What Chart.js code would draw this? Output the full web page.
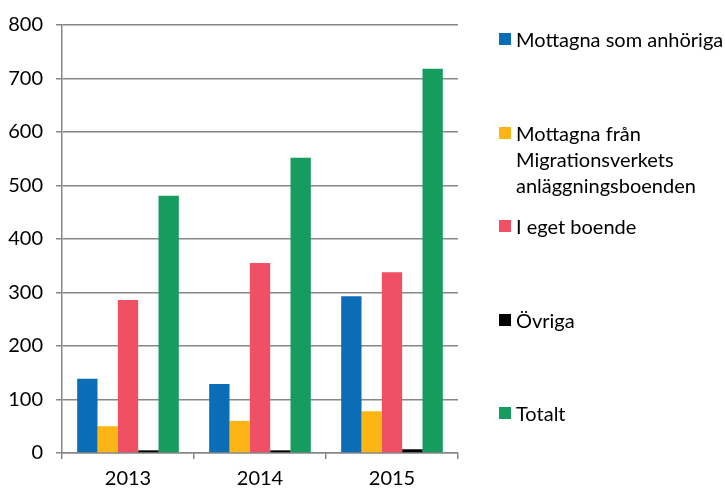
<!DOCTYPE html>
<html>
<head>
<meta charset="utf-8">
<script src="https://cdn.jsdelivr.net/npm/chart.js@4"></script>
<style>
  html, body { margin: 0; padding: 0; background: #fff; }
  #wrap { position: relative; width: 725px; height: 488px; }
  #legend { position: absolute; left: 0; top: 0; font-family: Lato, sans-serif; font-size: 20px; color: #000; }
  .item { position: absolute; left: 499px; white-space: nowrap; line-height: 26px; }
  .box { position: absolute; left: 0; top: 7px; width: 12px; height: 12px; }
  .txt { position: absolute; left: 17px; top: 0; }
</style>
</head>
<body>
<div id="wrap">
  <canvas id="chart" width="725" height="488"></canvas>
  <div id="legend"></div>
</div>
<script>
(function() {

  const years = ['2013', '2014', '2015'];

  const seriesNames = [
    'Mottagna som anhöriga',
    'Mottagna från\nMigrationsverkets\nanläggningsboenden',
    'I eget boende',
    'Övriga',
    'Totalt'
  ];
  const seriesColors = ['#0a6db6', '#fdb415', '#f05064', '#000000', '#179c60'];

  const anhoriga = [139, 129, 293];
  const fromMigrationsverket = [50, 60, 78];
  const egetBoende = [286, 355, 338];
  const ovriga = [5, 5, 7];
  const totalt = [481, 552, 718];

  const values = [anhoriga, fromMigrationsverket, egetBoende, ovriga, totalt];

  // legend rows (top of first text line), like the original spacing
  const legendTops = [26, 120, 213, 307, 400];

  Chart.defaults.font.family = 'Lato, sans-serif';
  Chart.defaults.font.size = 20;
  Chart.defaults.color = '#000';
  Chart.defaults.plugins.legend.display = false;

  const data = {
    labels: years,
    datasets: values.map(function(v, i) {
      return {
        label: seriesNames[i].replace(/\n/g, ' '),
        data: v,
        backgroundColor: seriesColors[i],
        borderWidth: 0,
        barPercentage: 1.0,
        categoryPercentage: 0.77
      };
    })
  };

  const config = {
    type: 'bar',
    data: data,
    options: {
      responsive: false,
      animation: false,
      layout: { padding: { top: 23, right: 267, left: 0, bottom: 0 } },
      plugins: { tooltip: { enabled: false } },
      scales: {
        x: {
          grid: {
            offset: true,
            drawOnChartArea: false,
            drawTicks: true,
            tickLength: 6,
            color: '#868686',
            lineWidth: 1.5
          },
          border: { color: '#868686', width: 1.5 },
          ticks: { padding: 8 },
          afterFit: function(scale) { scale.height = 35; }
        },
        y: {
          min: 0,
          max: 800,
          grid: { color: '#868686', lineWidth: 1.5, tickLength: 6 },
          border: { color: '#868686', width: 1.5 },
          ticks: { stepSize: 100, padding: 13 },
          afterFit: function(scale) { scale.width = 62; }
        }
      }
    }
  };

  new Chart(document.getElementById('chart'), config);

  const legend = document.getElementById('legend');
  seriesNames.forEach(function(name, i) {
    const item = document.createElement('div');
    item.className = 'item';
    item.style.top = legendTops[i] + 'px';
    const box = document.createElement('div');
    box.className = 'box';
    box.style.background = seriesColors[i];
    const txt = document.createElement('div');
    txt.className = 'txt';
    txt.innerHTML = name.split('\n').join('<br>');
    item.appendChild(box);
    item.appendChild(txt);
    legend.appendChild(item);
  });

})();
</script>
</body>
</html>
